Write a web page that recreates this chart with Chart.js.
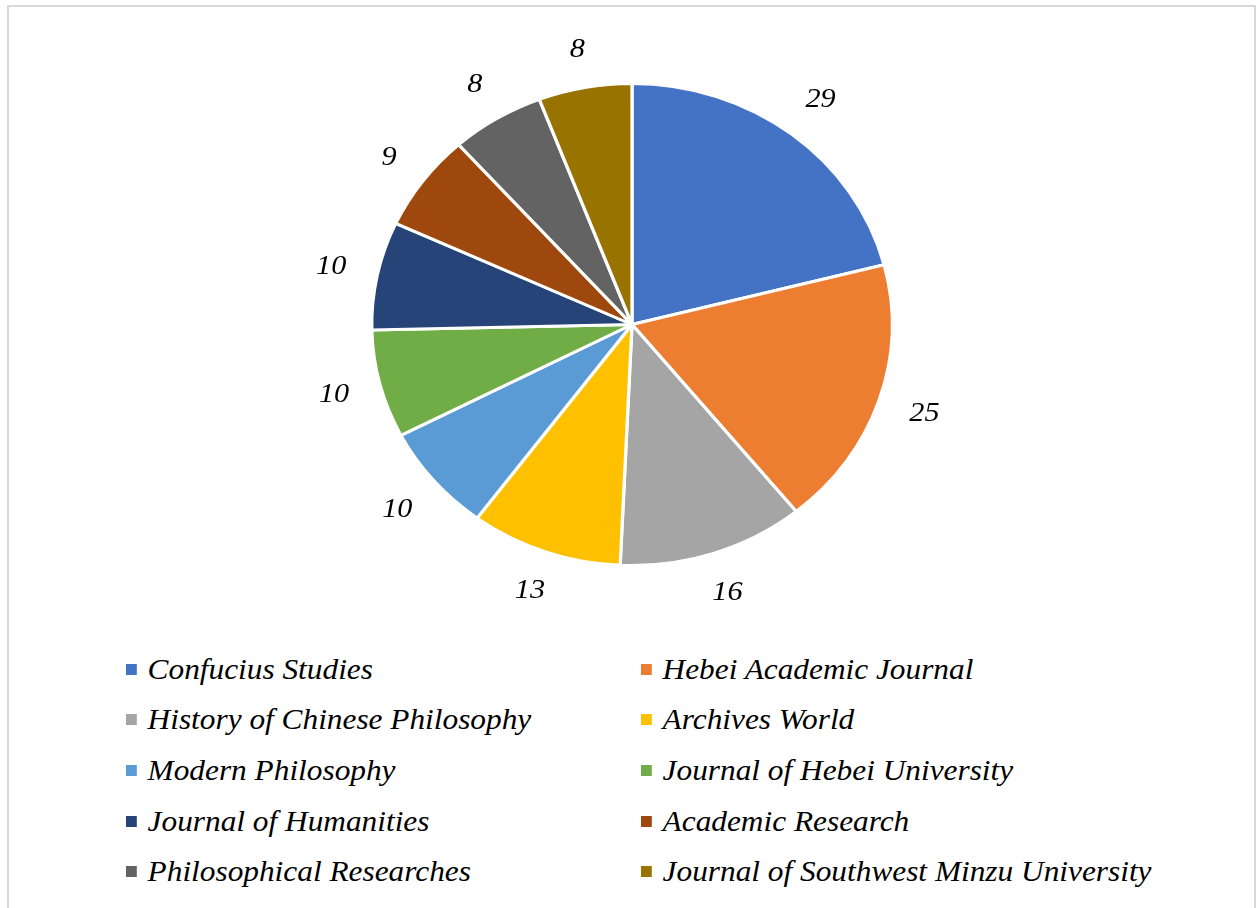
<!DOCTYPE html>
<html lang="en">
  <head>
    <meta charset="UTF-8" />
    <title>Journal distribution</title>
    <script src="https://cdn.jsdelivr.net/npm/chart.js"></script>
    <style>
      * {
        margin: 0;
        padding: 0;
        box-sizing: border-box;
      }
      body {
        width: 1257px;
        height: 908px;
        overflow: hidden;
        background: #fff;
        position: relative;
        font-family: "Liberation Serif", "Times New Roman", serif;
      }
      .frame {
        position: absolute;
        left: 7px;
        top: 5px;
        width: 1249px;
        height: 940px;
        border: 2px solid #d9d9d9;
      }
      #pie {
        position: absolute;
        left: 0;
        top: 0;
      }
      .legend {
        position: absolute;
        left: 0;
        top: 644px;
        width: 1257px;
      }
      .item {
        position: absolute;
        height: 50px;
        display: flex;
        align-items: center;
        font-style: italic;
        font-size: 29px;
        color: #000;
        white-space: nowrap;
        transform: scaleX(1.08);
        transform-origin: left center;
      }
      .item span.box {
        display: inline-block;
        width: 10px;
        height: 11px;
        margin-right: 10px;
      }
    </style>
  </head>
  <body>
    <div class="frame"></div>
    <canvas id="pie" width="1257" height="640"></canvas>
    <div class="legend" id="legend"></div>

    <script>
      const journals = [
        "Confucius Studies",
        "Hebei Academic Journal",
        "History of Chinese Philosophy",
        "Archives World",
        "Modern Philosophy",
        "Journal of Hebei University",
        "Journal of Humanities",
        "Academic Research",
        "Philosophical Researches",
        "Journal of Southwest Minzu University",
      ];
      const papers = [29, 25, 16, 13, 10, 10, 10, 9, 8, 8];
      const colors = [
        "#4472C4",
        "#ED7D31",
        "#A5A5A5",
        "#FFC000",
        "#5B9BD5",
        "#70AD47",
        "#264478",
        "#9E480E",
        "#636363",
        "#997300",
      ];

      // the original picture is a bit wider than tall
      const SX = 1.08;
      const labelFont = 'italic 28px "Liberation Serif", "Times New Roman", serif';

      const stretchPie = {
        id: "stretchPie",
        beforeDatasetsDraw(chart) {
          const arc = chart.getDatasetMeta(0).data[0];
          const ctx = chart.ctx;
          ctx.save();
          ctx.translate(arc.x, arc.y);
          ctx.scale(SX, 1);
          ctx.translate(-arc.x, -arc.y);
        },
        afterDatasetsDraw(chart) {
          const ctx = chart.ctx;
          ctx.restore();

          // value labels outside the slices
          ctx.save();
          ctx.font = labelFont;
          ctx.fillStyle = "#000";
          ctx.textAlign = "center";
          ctx.textBaseline = "middle";
          chart.getDatasetMeta(0).data.forEach((arc, i) => {
            const mid = (arc.startAngle + arc.endAngle) / 2;
            const c = Math.cos(mid);
            const s = Math.sin(mid);
            const txt = String(papers[i]);
            const w = ctx.measureText(txt).width;
            const d = arc.outerRadius + 28 + (Math.abs(c) * w) / 2 + Math.abs(s) * 9;
            ctx.save();
            ctx.translate(arc.x + d * c * SX, arc.y + d * s);
            ctx.scale(SX, 1);
            ctx.fillText(txt, 0, 0);
            ctx.restore();
          });
          ctx.restore();
        },
      };

      new Chart(document.getElementById("pie"), {
        type: "pie",
        data: {
          labels: journals,
          datasets: [
            {
              data: papers,
              backgroundColor: colors,
              borderColor: "#fff",
              borderWidth: 3,
            },
          ],
        },
        options: {
          responsive: false,
          animation: false,
          layout: {
            padding: { top: 82, bottom: 73, left: 7, right: 0 },
          },
          plugins: {
            legend: { display: false },
            tooltip: { enabled: false },
          },
        },
        plugins: [stretchPie],
      });

      // two-column legend under the pie
      const legend = document.getElementById("legend");
      journals.forEach((name, i) => {
        const row = Math.floor(i / 2);
        const col = i % 2;
        const div = document.createElement("div");
        div.className = "item";
        div.style.left = (col === 0 ? 126 : 641) + "px";
        div.style.top = row * 50.7 + "px";
        const box = document.createElement("span");
        box.className = "box";
        box.style.background = colors[i];
        div.appendChild(box);
        div.appendChild(document.createTextNode(name));
        legend.appendChild(div);
      });
    </script>
  </body>
</html>
